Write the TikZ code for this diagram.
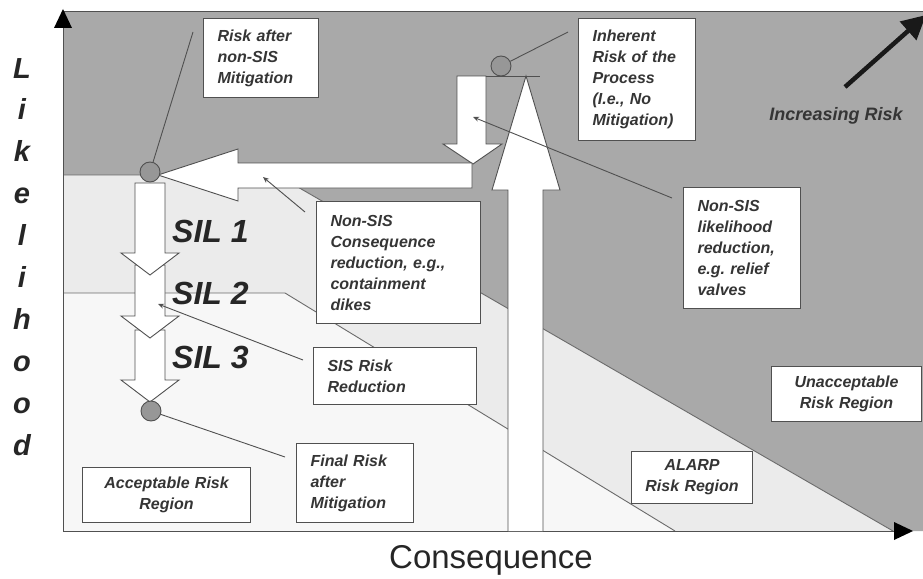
\documentclass[tikz,border=0pt]{standalone}
\usepackage{fontspec}
\setmainfont{Liberation Sans}
\usetikzlibrary{arrows.meta,calc}
\definecolor{unacc}{HTML}{A9A9A9}
\definecolor{alarp}{HTML}{EBEBEB}
\definecolor{accept}{HTML}{F7F7F7}
\definecolor{edge}{HTML}{505050}
\definecolor{ink}{HTML}{353535}
\definecolor{dot}{HTML}{979797}
\frenchspacing

\begin{document}
\begin{tikzpicture}[x=1pt,y=-1pt,
  region line/.style={draw=edge!85, line width=0.9},
  bigarrow/.style={fill=white, draw=edge, line width=0.9, line join=miter},
  riskdot/.style={circle, fill=dot, draw=edge, line width=0.9, minimum size=20pt, inner sep=0pt},
  labelbox/.style={draw=edge, line width=1.1, fill=white, anchor=north west,
    inner xsep=14pt, inner ysep=0pt, text=ink,
    font=\fontsize{16}{21}\selectfont\bfseries\itshape},
  pointer/.style={draw=edge, line width=0.9},
  tippointer/.style={pointer, -{Stealth[length=6pt,width=5pt]}},
  sillabel/.style={anchor=base west, inner sep=0pt, text=black!85,
    font=\fontsize{32}{32}\selectfont\bfseries\itshape},
  axisletter/.style={anchor=base, inner sep=0pt, text=black!85,
    font=\fontsize{29}{29}\selectfont\bfseries\itshape}
]
\useasboundingbox (0,0) rectangle (923,578);

% risk regions
\fill[unacc] (63,12) -- (923,12) -- (923,531) -- (893,531) -- (277,175) -- (63,175) -- cycle;
\fill[alarp] (63,175) -- (277,175) -- (893,531) -- (675,531) -- (285,293) -- (63,293) -- cycle;
\fill[accept] (63,293) -- (285,293) -- (675,531) -- (63,531) -- cycle;
\draw[region line] (63,175) -- (277,175) -- (893,531);
\draw[region line] (63,293) -- (285,293) -- (675,531);

% frame and axes
\draw[edge, line width=1] (63,531) -- (63,12) -- (923,12);
\draw[edge, line width=1] (63,531) -- (896,531);
\fill[black] (63,9) -- (72,28) -- (54,28) -- cycle;
\fill[black] (913,531) -- (894,540) -- (894,522) -- cycle;

% increasing risk arrow
\coordinate (incstart) at (845,87);
\coordinate (incend) at (926,15);
\draw[black!90, line width=4.5pt, -{Triangle[length=24pt,width=24pt]}] (incstart) -- (incend);
\node[anchor=base, inner sep=0pt, text=ink, font=\fontsize{18}{18}\selectfont\bfseries\itshape] (inclabel) at (836,120) {Increasing Risk};

% inherent risk: vertical arrow and non-SIS likelihood reduction
\draw[bigarrow] (508,531) -- (508,190) -- (492,190) -- (526,76) -- (560,190) -- (543,190) -- (543,531);
\draw[bigarrow] (457,76) -- (486,76) -- (486,144) -- (502,144) -- (473,164) -- (443,144) -- (457,144) -- cycle;
\coordinate (levelend) at (540,76);
\draw[pointer] (486,76) -- (levelend);

% non-SIS consequence reduction
\draw[bigarrow] (158,175) -- (238,149) -- (238,163) -- (472,163) -- (472,188) -- (238,188) -- (238,201) -- cycle;

% SIS reductions
\draw[bigarrow] (135,330) -- (165,330) -- (165,380) -- (179,380) -- (150,402) -- (121,380) -- (135,380) -- cycle;
\draw[bigarrow] (135,265) -- (165,265) -- (165,316) -- (179,316) -- (150,338) -- (121,316) -- (135,316) -- cycle;
\draw[bigarrow] (135,183) -- (165,183) -- (165,253) -- (179,253) -- (150,275) -- (121,253) -- (135,253) -- cycle;

\node[sillabel] (sil1) at (172,242) {SIL 1};
\node[sillabel] (sil2) at (172,304) {SIL 2};
\node[sillabel] (sil3) at (172,368) {SIL 3};

% risk points
\node[riskdot] (inherent) at (501,66) {};
\node[riskdot] (afternonsis) at (150,172) {};
\node[riskdot] (final) at (151,411) {};

% label boxes
\node[labelbox, text width=87pt, minimum height=79pt, align=left] (boxafter) at (203,18)
  {Risk after\\non-SIS\\Mitigation};
\node[labelbox, text width=89pt, minimum height=122pt, align=left] (boxinherent) at (578,18)
  {Inherent\\Risk of the\\Process\\(I.e., No\\Mitigation)};
\node[labelbox, text width=89pt, minimum height=121pt, align=left] (boxlikely) at (683,187)
  {Non-SIS\\likelihood\\reduction,\\e.g. relief\\valves};
\node[labelbox, text width=136pt, minimum height=122pt, align=left] (boxconseq) at (316,201)
  {Non-SIS\\Consequence\\reduction, e.g.,\\containment\\dikes};
\node[labelbox, text width=135pt, minimum height=57pt, align=left] (boxsis) at (313,347)
  {SIS Risk\\Reduction};
\node[labelbox, text width=89pt, minimum height=79pt, align=left] (boxfinal) at (296,443)
  {Final Risk\\after\\Mitigation};
\node[labelbox, text width=140pt, minimum height=55pt, align=center] (boxaccept) at (82,467)
  {Acceptable Risk\\Region};
\node[labelbox, inner xsep=8pt, text width=105pt, minimum height=52pt, align=center] (boxalarp) at (631,451)
  {ALARP\\Risk Region};
\node[labelbox, text width=122pt, minimum height=55pt, align=center] (boxunacc) at (771,366)
  {Unacceptable\\Risk Region};

% pointers from the boxes
\coordinate (fromafter) at (193,32);
\coordinate (frominherent) at (568,32);
\coordinate (fromfinal) at (285,457);
\coordinate (fromconseq) at (305,212);
\coordinate (toconseq) at (263,177);
\coordinate (fromlikely) at (672,198);
\coordinate (tolikely) at (473,117);
\coordinate (fromsis) at (303,360);
\coordinate (tosis) at (158,304);
\draw[pointer] (fromafter) -- (afternonsis);
\draw[pointer] (frominherent) -- (inherent);
\draw[pointer] (fromfinal) -- (final);
\draw[tippointer] (fromconseq) -- (toconseq);
\draw[tippointer] (fromlikely) -- (tolikely);
\draw[tippointer] (fromsis) -- (tosis);

% axis titles
\foreach \ch [count=\k from 0] in {L,i,k,e,l,i,h,o,o,d}
  \node[axisletter] (ylet\k) at (22,{78+41.9*\k}) {\ch};
\node[anchor=base, inner sep=0pt, text=black!85, font=\fontsize{33}{33}\selectfont] (xtitle) at (491,568) {Consequence};
\end{tikzpicture}
\end{document}
